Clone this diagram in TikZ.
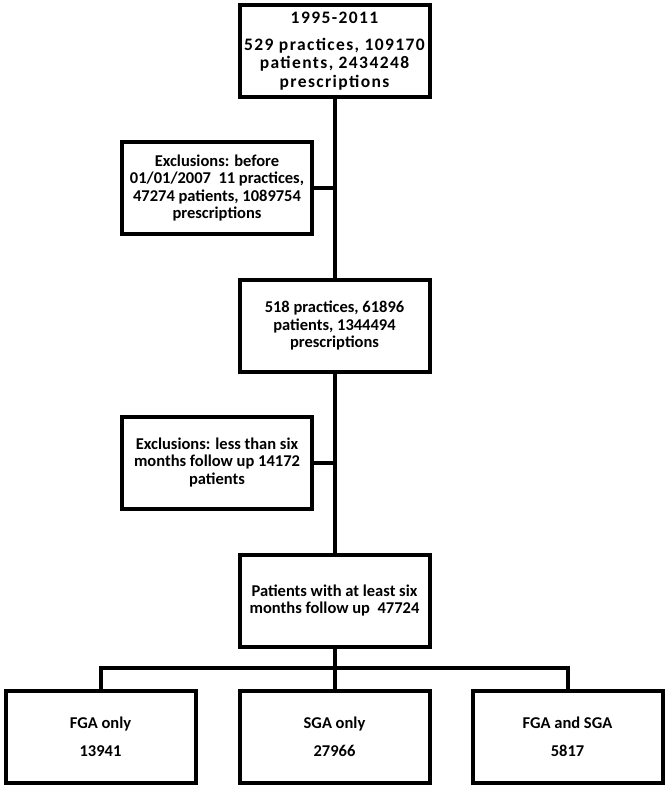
\documentclass[tikz,border=0pt]{standalone}
\usepackage{fontspec}
\setmainfont{Carlito}
\newfontfamily\topfont[LetterSpace=8]{Carlito}
\begin{document}
\begin{tikzpicture}[x=1pt,y=-1pt,
  box/.style={draw=black,line width=4pt,minimum width=190pt,minimum height=92pt,
    inner sep=0pt,align=center,font=\fontsize{16.5}{17.5}\selectfont\bfseries},
  topbox/.style={box,font=\topfont\fontsize{17.5}{18.5}\selectfont\bfseries},
  conn/.style={draw=black,line width=4pt}]
\useasboundingbox (0,0) rectangle (669,790);
\node[topbox] (top) at (334.5,51) {1995-2011\\[8pt]529 practices, 109170\\patients, 2434248\\prescriptions};
\node[box] (ex1) at (217,188) {Exclusions: before\\01/01/2007~~11 practices,\\47274 patients, 1089754\\prescriptions};
\node[box] (mid) at (334.5,325.5) {518 practices, 61896\\patients, 1344494\\prescriptions};
\node[box] (ex2) at (217,462.5) {Exclusions: less than six\\months follow up 14172\\patients};
\node[box] (fol) at (334.5,600.5) {Patients with at least six\\months follow up~~47724};
\node[box] (fga) at (100.5,737) {FGA only\\[10pt]13941};
\node[box] (sga) at (334.5,737) {SGA only\\[10pt]27966};
\node[box] (both) at (567.5,737) {FGA and SGA\\[10pt]5817};
\coordinate (bus) at (334.5,668);
\coordinate (j1) at (334.5,188);
\coordinate (j2) at (334.5,462.5);
\draw[conn] (top.south) -- (mid.north);
\draw[conn] (mid.south) -- (fol.north);
\draw[conn] (ex1.east) -- (j1);
\draw[conn] (ex2.east) -- (j2);
\draw[conn] (fol.south) -- (bus);
\draw[conn] (fga.north) |- (bus) -| (both.north);
\draw[conn] (bus) -- (sga.north);
\end{tikzpicture}
\end{document}
